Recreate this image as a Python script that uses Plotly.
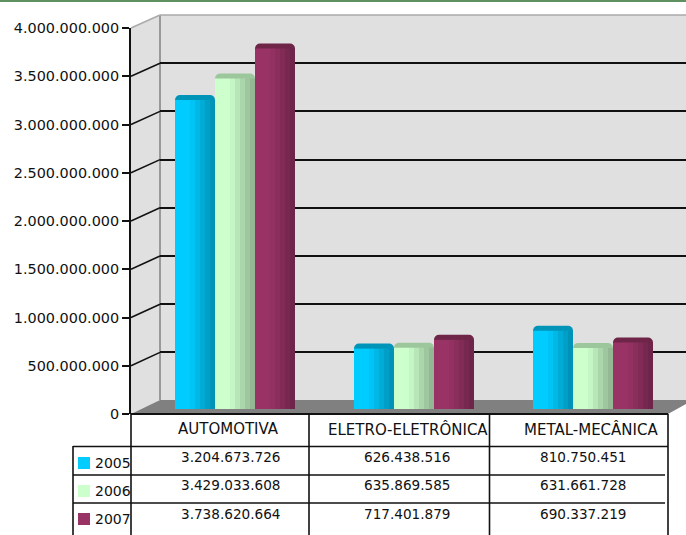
import plotly.graph_objects as go

categories = ["AUTOMOTIVA", "ELETRO-ELETRÔNICA", "METAL-MECÂNICA"]
years = ["2005", "2006", "2007"]
values_2005 = [3204673726, 626438516, 810750451]
values_2006 = [3429033608, 635869585, 631661728]
values_2007 = [3738620664, 717401879, 690337219]
series = [values_2005, values_2006, values_2007]
tick_values = [0, 500000000, 1000000000, 1500000000, 2000000000, 2500000000, 3000000000, 3500000000, 4000000000]

W, H = 686, 535
base_colors = [(0, 204, 255), (204, 255, 204), (153, 51, 102)]
cap_colors = ["#0094B8", "#9CC79C", "#6E2548"]
shade = [1, 1, 1, 0.96, 0.9, 0.84, 0.78, 0.72]
FONT = "DejaVu Sans"


def px(x):
    return x / W


def py(y):
    return 1 - y / H


def ydom(bottom, top):
    return [py(bottom), py(top)]


fig = go.Figure()

# back wall grid carrier
fig.add_trace(go.Scatter(x=[None], y=[None], xaxis="x", yaxis="y", showlegend=False))
# cylinder caps
for vals, c in zip(series, cap_colors):
    fig.add_trace(go.Bar(x=categories, y=vals, xaxis="x2", yaxis="y2", marker=dict(color=c, line_width=0, cornerradius=5),
                         showlegend=False))
# shaded cylinder bodies
for vals, rgb, yr in zip(series, base_colors, years):
    for s in shade:
        col = "rgb(%d,%d,%d)" % tuple(round(v * s) for v in rgb)
        fig.add_trace(go.Bar(x=categories, y=vals, xaxis="x2", yaxis="y3", name=yr,
                             marker=dict(color=col, line_width=0), showlegend=False))
# front axis carrier
fig.add_trace(go.Scatter(x=[None], y=[None], xaxis="x3", yaxis="y4", showlegend=False))

RANGE = [0, 4000000000]
shapes = []


def poly(points, fill, layer="below"):
    d = "M" + " L".join(f"{px(a):.5f},{py(b):.5f}" for a, b in points) + " Z"
    shapes.append(dict(type="path", path=d, xref="paper", yref="paper", fillcolor=fill, line_width=0, layer=layer))


def seg(x0, y0, x1, y1, color="#111111", width=1.6, layer="above"):
    shapes.append(dict(type="line", xref="paper", yref="paper", x0=px(x0), y0=py(y0), x1=px(x1), y1=py(y1),
                       line=dict(color=color, width=width), layer=layer))


# green band along the top edge
poly([(0, 0), (W, 0), (W, 2), (0, 2)], "#5F9060")
# walls and floor
poly([(160, 15), (W, 15), (W, 400), (160, 400)], "#E0E0E0")
poly([(131, 28), (160, 15), (160, 400), (131, 414)], "#E0E0E0")
poly([(131, 414), (160, 400), (W, 400), (W, 404), (668, 414)], "#808080")
seg(160, 15, 160, 400, "#999999", 2, "below")
seg(160, 15, W, 15, "#AAAAAA", 1.5, "below")

# slanted connectors from axis to wall
for t in tick_values[1:]:
    f = t / RANGE[1]
    y_front = 414 - 386 * f
    y_back = 400.6 - 385.6 * f
    seg(131, y_front, 160, y_back, "#AAAAAA" if t == RANGE[1] else "#111111", 1.5, "below")

# table rules
seg(131, 414, 668, 414, width=2)
seg(73, 446.5, 668, 446.5)
seg(73, 475, 665, 475)
seg(73, 503, 665, 503)
seg(73, 446, 73, H)
for x in (131, 309, 489.5, 668):
    seg(x, 414, x, H)

annotations = []


def label(x, y, text, anchor="center", size=13.6):
    annotations.append(dict(x=px(x), y=py(y), xref="paper", yref="paper", text=text, showarrow=False,
                            xanchor=anchor, yanchor="middle", font=dict(family=FONT, size=size, color="#111111"),
                            borderpad=0, borderwidth=0))


def fmt(v):
    return f"{v:,}".replace(",", ".")


for cat, x in zip(categories, (228, 408, 591)):
    label(x, 429, cat, size=15)
for vals, y in zip(series, (457, 485, 514)):
    for v, x in zip(vals, (230, 407, 583)):
        label(x, y, fmt(v))
for yr, rgb, y in zip(years, base_colors, (463, 491, 519)):
    label(95, y, yr, "left", size=14)
    poly([(78, y - 6), (90, y - 6), (90, y + 6), (78, y + 6)], "rgb(%d,%d,%d)" % rgb, "above")

hidden = dict(visible=False, showgrid=False, zeroline=False, fixedrange=True)

fig.update_layout(
    width=W, height=H, autosize=False, margin=dict(l=0, r=0, t=0, b=0, pad=0, autoexpand=False),
    paper_bgcolor="white", plot_bgcolor="rgba(0,0,0,0)",
    barmode="group", bargap=59 / 179, bargroupgap=0, separators=",.", showlegend=False,
    shapes=shapes, annotations=annotations,
    font=dict(family=FONT, size=13.6, color="#111111"),
    xaxis=dict(hidden, domain=[px(160), 1], range=[0, 1], automargin=False),
    yaxis=dict(domain=ydom(400.6, 15), range=RANGE, anchor="x", tickvals=tick_values, showgrid=True, automargin=False,
               gridcolor="#111111", gridwidth=1.5, zeroline=False, showticklabels=False, ticks="", showline=False, fixedrange=True),
    xaxis2=dict(hidden, domain=[px(145.5), px(682.5)], type="category", categoryorder="array", categoryarray=categories,
                range=[-0.5, 2.5], anchor="y3", automargin=False),
    yaxis2=dict(hidden, domain=ydom(404, 18.4), range=RANGE, anchor="x2", automargin=False),
    yaxis3=dict(hidden, domain=ydom(409, 23.4), range=RANGE, anchor="x2", automargin=False),
    xaxis3=dict(hidden, domain=[px(131), px(668)], range=[0, 1], anchor="y4", automargin=False),
    yaxis4=dict(domain=ydom(414, 28), range=RANGE, anchor="x3", tickvals=tick_values, tickformat=",d", automargin=False,
                ticks="outside", ticklen=7, tickcolor="#111111", tickwidth=1.5, showline=True, linecolor="#111111",
                linewidth=2, showgrid=False, zeroline=False, fixedrange=True,
                tickfont=dict(family=FONT, size=14.4, color="#111111")),
)

fig.write_html("out.html", config=dict(displayModeBar=False),
               post_script="document.documentElement.style.margin='0';document.body.style.margin='0';"
                           "var d=document.querySelector('.plotly-graph-div');d.style.position='fixed';d.style.left='0';d.style.top='0';")
